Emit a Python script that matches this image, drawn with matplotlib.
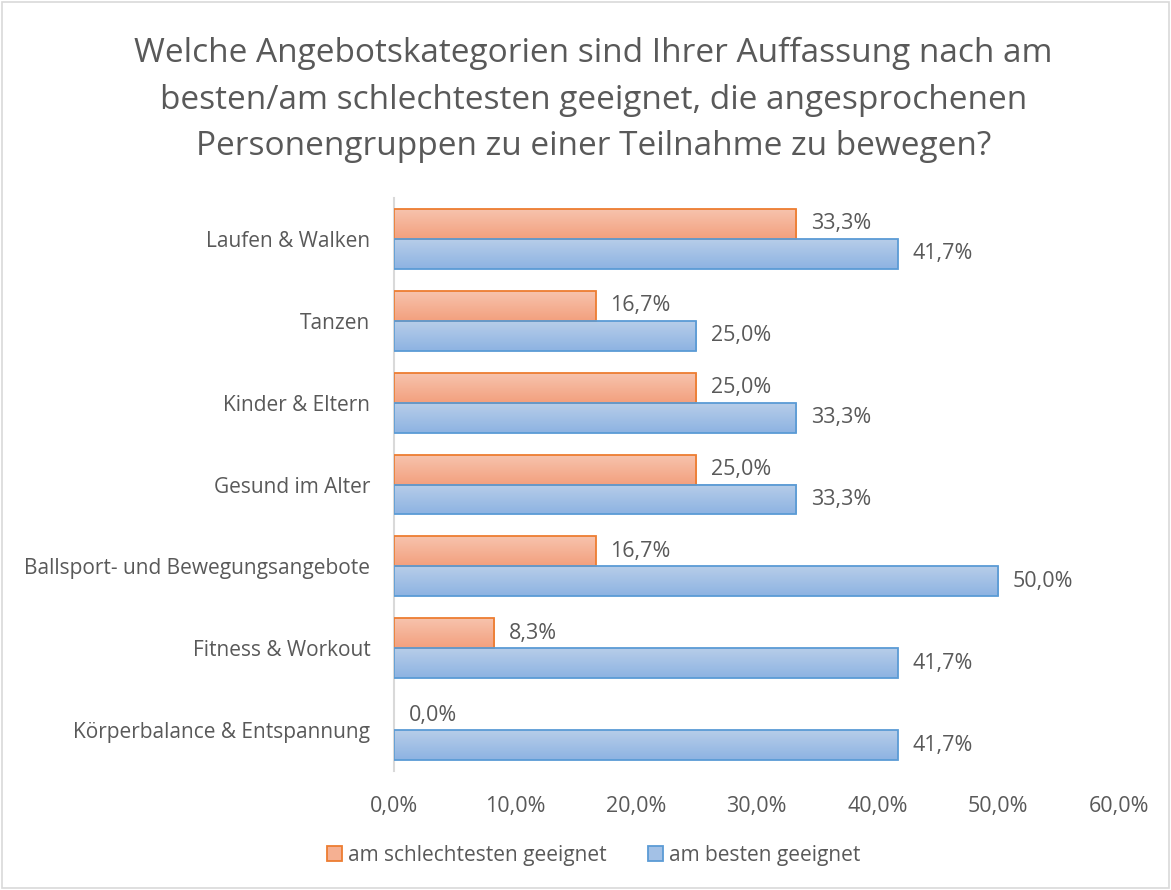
import matplotlib.pyplot as plt
import numpy as np
from matplotlib.colors import LinearSegmentedColormap
from matplotlib.patches import Patch

categories = ['Laufen & Walken', 'Tanzen', 'Kinder & Eltern', 'Gesund im Alter',
              'Ballsport- und Bewegungsangebote', 'Fitness & Workout',
              'Körperbalance & Entspannung']
schlecht = [33.3, 16.7, 25.0, 25.0, 16.7, 8.3, 0.0]
besten = [41.7, 25.0, 33.3, 33.3, 50.0, 41.7, 41.7]
xticks = [0, 10, 20, 30, 40, 50, 60]

plt.rcParams['font.family'] = ['Open Sans', 'DejaVu Sans']
grey = '#595959'

fig = plt.figure(figsize=(11.71, 8.9), dpi=100)
ax = fig.add_axes([0.3365, 0.1337, 0.6191, 0.6438])

y = np.arange(len(categories))
h = 0.366
orange_cm = LinearSegmentedColormap.from_list('o', ['#f7c3ad', '#f3a07e'])
blue_cm = LinearSegmentedColormap.from_list('b', ['#b7cde9', '#8db3e2'])
grad = np.linspace(0, 1, 64).reshape(-1, 1)

bars_o = ax.barh(y - h / 2, schlecht, height=h, facecolor='none', edgecolor='#ed7d31', lw=1.3, zorder=3)
bars_b = ax.barh(y + h / 2, besten, height=h, facecolor='none', edgecolor='#5b9bd5', lw=1.3, zorder=3)

for bars, cm in ((bars_o, orange_cm), (bars_b, blue_cm)):
    for b in bars:
        x0, y0, w, hh = b.get_x(), b.get_y(), b.get_width(), b.get_height()
        if w <= 0:
            b.set_linewidth(0)
            continue
        # y axis is inverted, so the top of the bar is y0
        ax.imshow(grad, cmap=cm, aspect='auto', extent=(x0, x0 + w, y0 + hh, y0),
                  origin='upper', zorder=2, interpolation='bilinear')

for yy, v in zip(y - h / 2, schlecht):
    ax.text(v + 1.2, yy, f'{v:.1f}%'.replace('.', ','), va='center', ha='left',
            fontsize=15.5, color=grey)
for yy, v in zip(y + h / 2, besten):
    ax.text(v + 1.2, yy, f'{v:.1f}%'.replace('.', ','), va='center', ha='left',
            fontsize=15.5, color=grey)

ax.set_xlim(0, 60)
ax.set_ylim(len(categories) - 0.5, -0.5)
ax.set_yticks(y)
ax.set_yticklabels(categories, fontsize=15, color=grey)
ax.set_xticks(xticks)
ax.set_xticklabels([f'{t:.1f}%'.replace('.', ',') for t in xticks], fontsize=15.5, color=grey)
ax.tick_params(length=0, pad=17, axis='y')
ax.tick_params(length=0, pad=18, axis='x')
for s in ['top', 'right', 'bottom']:
    ax.spines[s].set_visible(False)
ax.spines['left'].set_color('#d9d9d9')
ax.spines['left'].set_linewidth(1.5)

fig.text(0.507, 0.8876, 'Welche Angebotskategorien sind Ihrer Auffassung nach am\n'
         'besten/am schlechtesten geeignet, die angesprochenen\n'
         'Personengruppen zu einer Teilnahme zu bewegen?',
         ha='center', va='center', fontsize=24, color=grey, linespacing=1.55)

handles = [Patch(facecolor='#f5b092', edgecolor='#ed7d31', lw=1.3),
           Patch(facecolor='#a3c1e6', edgecolor='#5b9bd5', lw=1.3)]
fig.legend(handles, ['am schlechtesten geeignet', 'am besten geeignet'],
           loc='center', bbox_to_anchor=(0.507, 0.039), ncol=2, frameon=False,
           fontsize=15, labelcolor=grey, handlelength=0.7, handleheight=0.7,
           handletextpad=0.3, columnspacing=2.0)

fig.patches.append(plt.Rectangle((0.002, 0.002), 0.996, 0.996, transform=fig.transFigure,
                                 fill=False, edgecolor='#d9d9d9', lw=1.2))
fig.savefig('out.png', dpi=100)
